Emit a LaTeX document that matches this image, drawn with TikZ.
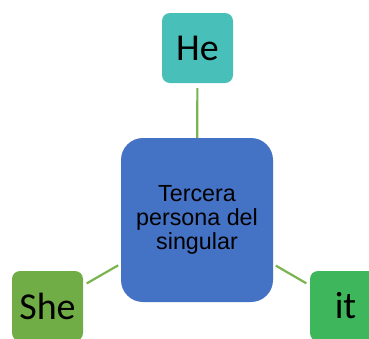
\documentclass[tikz,border=0pt]{standalone}
\usepackage{fontspec}
\setmainfont{Carlito}
\newfontfamily\arialfont{Liberation Sans}
\definecolor{heteal}{HTML}{48BFB8}
\definecolor{cblue}{HTML}{4472C4}
\definecolor{shegreen}{HTML}{70AD47}
\definecolor{itgreen}{HTML}{3EB75C}
\definecolor{lgreen}{HTML}{7AB450}
\tikzset{
  leafbox/.style={rounded corners=8pt, inner sep=0pt, minimum width=71pt, minimum height=70pt, font=\fontsize{38}{42}\selectfont, text=black},
  centerbox/.style={rounded corners=22pt, fill=cblue, inner sep=0pt, minimum width=152pt, minimum height=164pt, align=center, font=\arialfont\fontsize{23.3}{24.2}\selectfont, text=black},
  link/.style={draw=lgreen, line width=2.2pt}
}
\begin{document}
\begin{tikzpicture}[x=1pt,y=-1pt]
\useasboundingbox (0,0) rectangle (369,338);
\clip (0,0) rectangle (369,338);
\fill[white] (0,0) rectangle (369,338);
\node[centerbox] (c) at (197,220) {Tercera\\persona del\\singular};
\node[leafbox, fill=heteal] (he) at (197.5,48) {He};
\node[leafbox, fill=shegreen] (she) at (47.5,306) {She};
\node[leafbox, fill=itgreen] (it) at (345.5,306) {it};
\draw[link, shorten <=5pt] (he) -- (c);
\draw[link, shorten <=4pt, shorten >=3pt] (she) -- (c);
\draw[link, shorten <=4pt, shorten >=3pt] (it) -- (c);
\end{tikzpicture}
\end{document}
